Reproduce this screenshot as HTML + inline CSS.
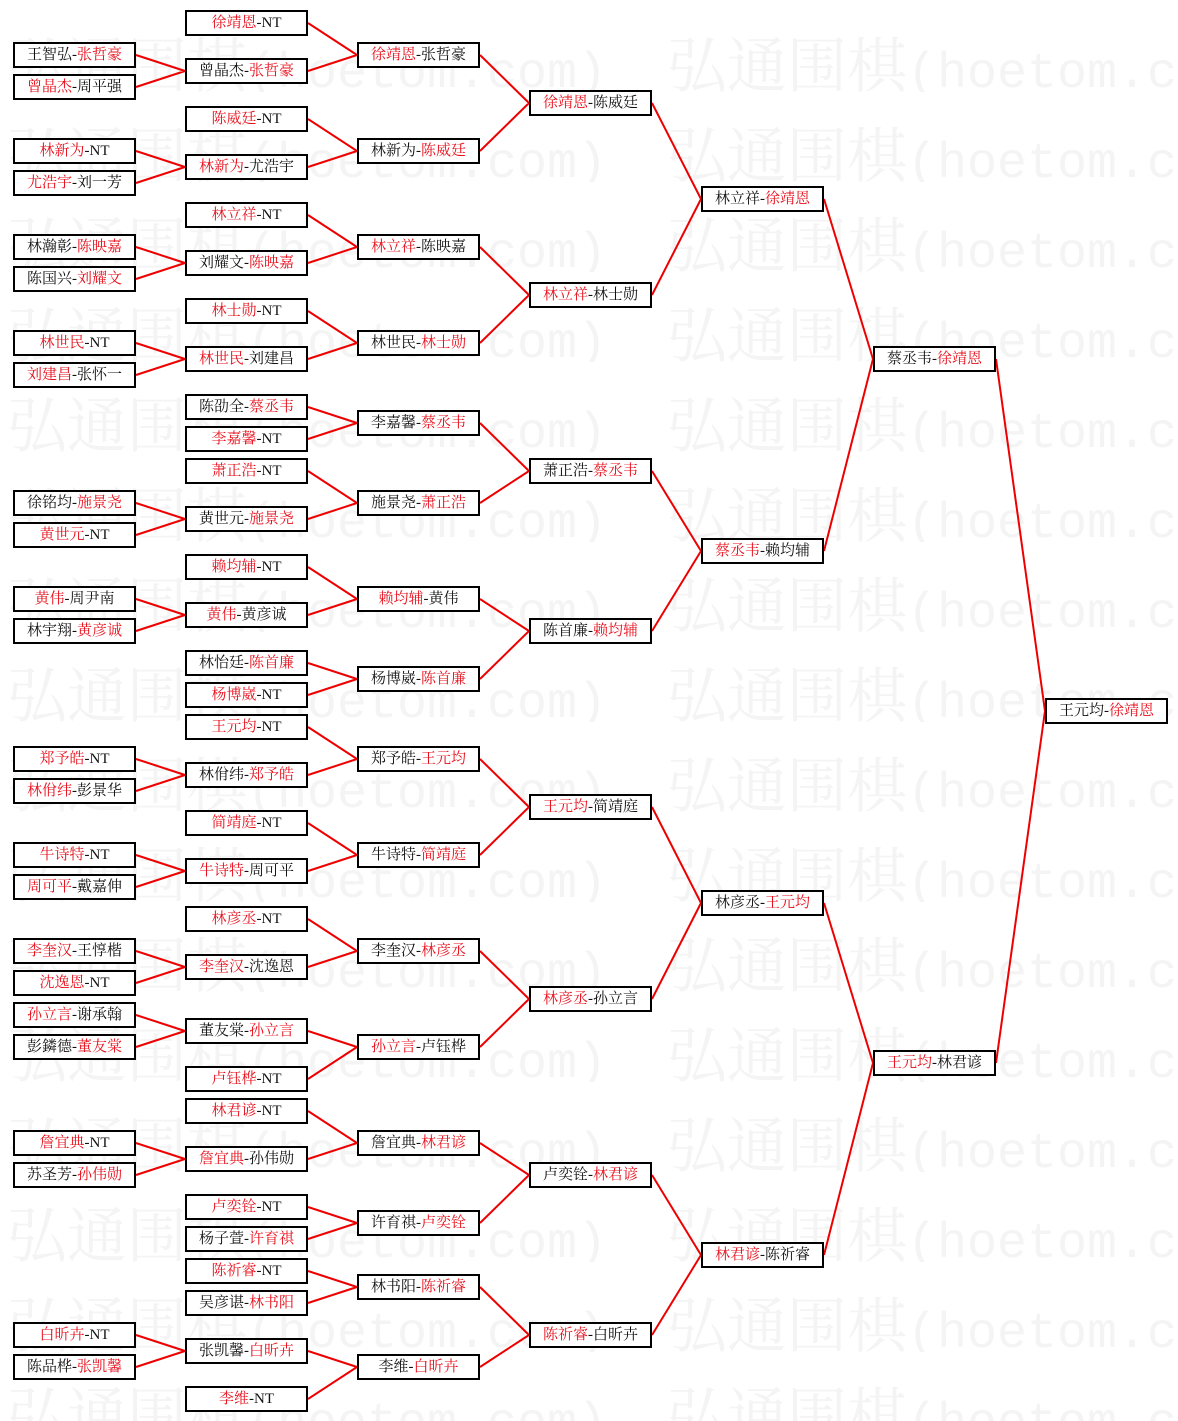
<!DOCTYPE html>
<html><head><meta charset="utf-8">
<style>
html,body{margin:0;padding:0;background:#fff;width:1178px;height:1421px;overflow:hidden;}
body{position:relative;font-family:"Liberation Serif","Noto Serif CJK SC","Noto Sans CJK SC",serif;}
.w{position:absolute;height:60px;line-height:60px;font-size:60px;color:#f4f4f4;white-space:nowrap;font-family:"Noto Serif CJK SC",serif;overflow:hidden;}
.w i{font-style:normal;font-family:"Liberation Mono",monospace;font-size:50px;}
.l{left:7px;width:655px}.r{left:667px;width:520px}
.b{position:absolute;width:123px;height:26px;box-sizing:border-box;border:2px solid #000;background:#fff;font-size:15px;line-height:22px;text-align:center;color:#111;white-space:nowrap;font-family:"Liberation Serif","Noto Serif CJK SC",serif;}
.b em{font-style:normal;color:#e8101c;}
.c0{left:13px}.c1{left:185px}.c2{left:357px}.c3{left:529px}.c4{left:701px}.c5{left:873px}.c6{left:1045px}
svg{position:absolute;left:0;top:0;}
</style></head><body>
<div class="w l" style="top:32px">弘通围棋<i>(hoetom.com)</i></div><div class="w r" style="top:32px">弘通围棋<i>(hoetom.com)</i></div>
<div class="w l" style="top:122px">弘通围棋<i>(hoetom.com)</i></div><div class="w r" style="top:122px">弘通围棋<i>(hoetom.com)</i></div>
<div class="w l" style="top:212px">弘通围棋<i>(hoetom.com)</i></div><div class="w r" style="top:212px">弘通围棋<i>(hoetom.com)</i></div>
<div class="w l" style="top:302px">弘通围棋<i>(hoetom.com)</i></div><div class="w r" style="top:302px">弘通围棋<i>(hoetom.com)</i></div>
<div class="w l" style="top:392px">弘通围棋<i>(hoetom.com)</i></div><div class="w r" style="top:392px">弘通围棋<i>(hoetom.com)</i></div>
<div class="w l" style="top:482px">弘通围棋<i>(hoetom.com)</i></div><div class="w r" style="top:482px">弘通围棋<i>(hoetom.com)</i></div>
<div class="w l" style="top:572px">弘通围棋<i>(hoetom.com)</i></div><div class="w r" style="top:572px">弘通围棋<i>(hoetom.com)</i></div>
<div class="w l" style="top:662px">弘通围棋<i>(hoetom.com)</i></div><div class="w r" style="top:662px">弘通围棋<i>(hoetom.com)</i></div>
<div class="w l" style="top:752px">弘通围棋<i>(hoetom.com)</i></div><div class="w r" style="top:752px">弘通围棋<i>(hoetom.com)</i></div>
<div class="w l" style="top:842px">弘通围棋<i>(hoetom.com)</i></div><div class="w r" style="top:842px">弘通围棋<i>(hoetom.com)</i></div>
<div class="w l" style="top:932px">弘通围棋<i>(hoetom.com)</i></div><div class="w r" style="top:932px">弘通围棋<i>(hoetom.com)</i></div>
<div class="w l" style="top:1022px">弘通围棋<i>(hoetom.com)</i></div><div class="w r" style="top:1022px">弘通围棋<i>(hoetom.com)</i></div>
<div class="w l" style="top:1112px">弘通围棋<i>(hoetom.com)</i></div><div class="w r" style="top:1112px">弘通围棋<i>(hoetom.com)</i></div>
<div class="w l" style="top:1202px">弘通围棋<i>(hoetom.com)</i></div><div class="w r" style="top:1202px">弘通围棋<i>(hoetom.com)</i></div>
<div class="w l" style="top:1292px">弘通围棋<i>(hoetom.com)</i></div><div class="w r" style="top:1292px">弘通围棋<i>(hoetom.com)</i></div>
<div class="w l" style="top:1382px">弘通围棋<i>(hoetom.com)</i></div><div class="w r" style="top:1382px">弘通围棋<i>(hoetom.com)</i></div>

<svg width="1178" height="1421"><path fill="none" stroke="#ee0000" stroke-width="2" d="
M136 55L185 71M136 87L185 71M136 151L185 167M136 183L185 167M136 247L185 263M136 279L185 263M136 343L185 359M136 375L185 359
M136 503L185 519M136 535L185 519M136 599L185 615M136 631L185 615M136 759L185 775M136 791L185 775M136 855L185 871M136 887L185 871
M136 951L185 967M136 983L185 967M136 1015L185 1031M136 1047L185 1031M136 1143L185 1159M136 1175L185 1159M136 1335L185 1351M136 1367L185 1351
M308 23L357 55M308 71L357 55M308 119L357 151M308 167L357 151M308 215L357 247M308 263L357 247M308 311L357 343M308 359L357 343
M308 407L357 423M308 439L357 423M308 471L357 503M308 519L357 503M308 567L357 599M308 615L357 599M308 663L357 679M308 695L357 679
M308 727L357 759M308 775L357 759M308 823L357 855M308 871L357 855M308 919L357 951M308 967L357 951M308 1031L357 1047M308 1079L357 1047
M308 1111L357 1143M308 1159L357 1143M308 1207L357 1223M308 1239L357 1223M308 1271L357 1287M308 1303L357 1287M308 1351L357 1367M308 1399L357 1367
M480 55L529 103M480 151L529 103M480 247L529 295M480 343L529 295M480 423L529 471M480 503L529 471M480 599L529 631M480 679L529 631
M480 759L529 807M480 855L529 807M480 951L529 999M480 1047L529 999M480 1143L529 1175M480 1223L529 1175M480 1287L529 1335M480 1367L529 1335
M652 103L701 199M652 295L701 199M652 471L701 551M652 631L701 551M652 807L701 903M652 999L701 903M652 1175L701 1255M652 1335L701 1255
M824 199L873 359M824 551L873 359M824 903L873 1063M824 1255L873 1063
M996 359L1045 711M996 1063L1045 711"/></svg>

<div class="b c0" style="top:42px">王智弘-<em>张哲豪</em></div>
<div class="b c0" style="top:74px"><em>曾晶杰</em>-周平强</div>
<div class="b c0" style="top:138px"><em>林新为</em>-NT</div>
<div class="b c0" style="top:170px"><em>尤浩宇</em>-刘一芳</div>
<div class="b c0" style="top:234px">林瀚彰-<em>陈映嘉</em></div>
<div class="b c0" style="top:266px">陈国兴-<em>刘耀文</em></div>
<div class="b c0" style="top:330px"><em>林世民</em>-NT</div>
<div class="b c0" style="top:362px"><em>刘建昌</em>-张怀一</div>
<div class="b c0" style="top:490px">徐铭均-<em>施景尧</em></div>
<div class="b c0" style="top:522px"><em>黄世元</em>-NT</div>
<div class="b c0" style="top:586px"><em>黄伟</em>-周尹南</div>
<div class="b c0" style="top:618px">林宇翔-<em>黄彦诚</em></div>
<div class="b c0" style="top:746px"><em>郑予皓</em>-NT</div>
<div class="b c0" style="top:778px"><em>林佾纬</em>-彭景华</div>
<div class="b c0" style="top:842px"><em>牛诗特</em>-NT</div>
<div class="b c0" style="top:874px"><em>周可平</em>-戴嘉伸</div>
<div class="b c0" style="top:938px"><em>李奎汉</em>-王惇楷</div>
<div class="b c0" style="top:970px"><em>沈逸恩</em>-NT</div>
<div class="b c0" style="top:1002px"><em>孙立言</em>-谢承翰</div>
<div class="b c0" style="top:1034px">彭鏻德-<em>董友棠</em></div>
<div class="b c0" style="top:1130px"><em>詹宜典</em>-NT</div>
<div class="b c0" style="top:1162px">苏圣芳-<em>孙伟勋</em></div>
<div class="b c0" style="top:1322px"><em>白昕卉</em>-NT</div>
<div class="b c0" style="top:1354px">陈品桦-<em>张凯馨</em></div>

<div class="b c1" style="top:10px"><em>徐靖恩</em>-NT</div>
<div class="b c1" style="top:58px">曾晶杰-<em>张哲豪</em></div>
<div class="b c1" style="top:106px"><em>陈威廷</em>-NT</div>
<div class="b c1" style="top:154px"><em>林新为</em>-尤浩宇</div>
<div class="b c1" style="top:202px"><em>林立祥</em>-NT</div>
<div class="b c1" style="top:250px">刘耀文-<em>陈映嘉</em></div>
<div class="b c1" style="top:298px"><em>林士勋</em>-NT</div>
<div class="b c1" style="top:346px"><em>林世民</em>-刘建昌</div>
<div class="b c1" style="top:394px">陈劭全-<em>蔡丞韦</em></div>
<div class="b c1" style="top:426px"><em>李嘉馨</em>-NT</div>
<div class="b c1" style="top:458px"><em>萧正浩</em>-NT</div>
<div class="b c1" style="top:506px">黄世元-<em>施景尧</em></div>
<div class="b c1" style="top:554px"><em>赖均辅</em>-NT</div>
<div class="b c1" style="top:602px"><em>黄伟</em>-黄彦诚</div>
<div class="b c1" style="top:650px">林怡廷-<em>陈首廉</em></div>
<div class="b c1" style="top:682px"><em>杨博崴</em>-NT</div>
<div class="b c1" style="top:714px"><em>王元均</em>-NT</div>
<div class="b c1" style="top:762px">林佾纬-<em>郑予皓</em></div>
<div class="b c1" style="top:810px"><em>简靖庭</em>-NT</div>
<div class="b c1" style="top:858px"><em>牛诗特</em>-周可平</div>
<div class="b c1" style="top:906px"><em>林彦丞</em>-NT</div>
<div class="b c1" style="top:954px"><em>李奎汉</em>-沈逸恩</div>
<div class="b c1" style="top:1018px">董友棠-<em>孙立言</em></div>
<div class="b c1" style="top:1066px"><em>卢钰桦</em>-NT</div>
<div class="b c1" style="top:1098px"><em>林君谚</em>-NT</div>
<div class="b c1" style="top:1146px"><em>詹宜典</em>-孙伟勋</div>
<div class="b c1" style="top:1194px"><em>卢奕铨</em>-NT</div>
<div class="b c1" style="top:1226px">杨子萱-<em>许育祺</em></div>
<div class="b c1" style="top:1258px"><em>陈祈睿</em>-NT</div>
<div class="b c1" style="top:1290px">吴彦谌-<em>林书阳</em></div>
<div class="b c1" style="top:1338px">张凯馨-<em>白昕卉</em></div>
<div class="b c1" style="top:1386px"><em>李维</em>-NT</div>

<div class="b c2" style="top:42px"><em>徐靖恩</em>-张哲豪</div>
<div class="b c2" style="top:138px">林新为-<em>陈威廷</em></div>
<div class="b c2" style="top:234px"><em>林立祥</em>-陈映嘉</div>
<div class="b c2" style="top:330px">林世民-<em>林士勋</em></div>
<div class="b c2" style="top:410px">李嘉馨-<em>蔡丞韦</em></div>
<div class="b c2" style="top:490px">施景尧-<em>萧正浩</em></div>
<div class="b c2" style="top:586px"><em>赖均辅</em>-黄伟</div>
<div class="b c2" style="top:666px">杨博崴-<em>陈首廉</em></div>
<div class="b c2" style="top:746px">郑予皓-<em>王元均</em></div>
<div class="b c2" style="top:842px">牛诗特-<em>简靖庭</em></div>
<div class="b c2" style="top:938px">李奎汉-<em>林彦丞</em></div>
<div class="b c2" style="top:1034px"><em>孙立言</em>-卢钰桦</div>
<div class="b c2" style="top:1130px">詹宜典-<em>林君谚</em></div>
<div class="b c2" style="top:1210px">许育祺-<em>卢奕铨</em></div>
<div class="b c2" style="top:1274px">林书阳-<em>陈祈睿</em></div>
<div class="b c2" style="top:1354px">李维-<em>白昕卉</em></div>

<div class="b c3" style="top:90px"><em>徐靖恩</em>-陈威廷</div>
<div class="b c3" style="top:282px"><em>林立祥</em>-林士勋</div>
<div class="b c3" style="top:458px">萧正浩-<em>蔡丞韦</em></div>
<div class="b c3" style="top:618px">陈首廉-<em>赖均辅</em></div>
<div class="b c3" style="top:794px"><em>王元均</em>-简靖庭</div>
<div class="b c3" style="top:986px"><em>林彦丞</em>-孙立言</div>
<div class="b c3" style="top:1162px">卢奕铨-<em>林君谚</em></div>
<div class="b c3" style="top:1322px"><em>陈祈睿</em>-白昕卉</div>

<div class="b c4" style="top:186px">林立祥-<em>徐靖恩</em></div>
<div class="b c4" style="top:538px"><em>蔡丞韦</em>-赖均辅</div>
<div class="b c4" style="top:890px">林彦丞-<em>王元均</em></div>
<div class="b c4" style="top:1242px"><em>林君谚</em>-陈祈睿</div>

<div class="b c5" style="top:346px">蔡丞韦-<em>徐靖恩</em></div>
<div class="b c5" style="top:1050px"><em>王元均</em>-林君谚</div>

<div class="b c6" style="top:698px">王元均-<em>徐靖恩</em></div>
</body></html>
